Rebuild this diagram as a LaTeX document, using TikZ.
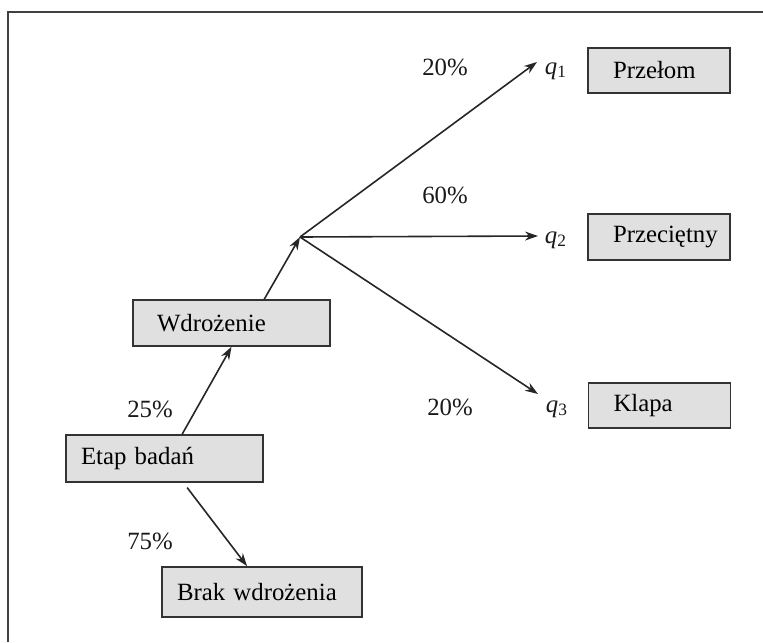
\documentclass[tikz,border=0pt]{standalone}
\usepackage{fontspec}
\setmainfont{Liberation Serif}
\usetikzlibrary{arrows.meta}

\begin{document}
\begin{tikzpicture}[x=0.5pt, y=-0.5pt,
	box/.style={draw=black!80, line width=0.8pt, fill=black!12, align=left,
		inner ysep=0pt, font=\fontsize{12.4}{15}\selectfont},
	arr/.style={line width=0.8pt, black!85, -{Stealth[length=6.5pt, width=4.5pt]}},
	lbl/.style={font=\fontsize{12.4}{15}\selectfont, text=black!90}]
	\useasboundingbox (0,0) rectangle (763,642);
	\draw[line width=0.7pt, black!75] (8,642) -- (8,12) -- (763,12);

	% boxes
	\node[box, text width=74.5pt, inner xsep=12pt, minimum height=23pt] (wdr) at (231.5,323) {Wdrożenie};
	\node[box, text width=83.5pt, inner xsep=7.5pt, minimum height=23.5pt] (etap) at (164.5,458.5) {Etap badań};
	\node[box, text width=85pt, inner xsep=7.5pt, minimum height=25pt] (brak) at (262,592) {Brak wdrożenia};
	\node[box, text width=46pt, inner xsep=12.5pt, minimum height=22.5pt] (przel) at (659,70.5) {Przełom};
	\node[box, text width=46pt, inner xsep=12.5pt, minimum height=23pt] (przec) at (659,237) {Przeciętny};
	\node[box, text width=46pt, inner xsep=12.5pt, minimum height=22.5pt] (klapa) at (659.5,405.5) {Klapa};

	% branch point and arrow tips
	\coordinate (br) at (300,237);
	\coordinate (t1) at (537,62);
	\coordinate (t2) at (538,236);
	\coordinate (t3) at (538,394);

	\node[lbl] (q1) at (556,71) {\textit{q}\textsubscript{1}};
	\node[lbl] (q2) at (556,240) {\textit{q}\textsubscript{2}};
	\node[lbl] (q3) at (557,409) {\textit{q}\textsubscript{3}};

	\draw[arr] (etap.54) -- (wdr.south);
	\draw[arr, shorten <=3pt] (etap.-52) -- (brak.120);
	\draw[arr] (wdr.36) -- (br);
	\draw[arr] (br) -- (t1);
	\draw[arr] (br) -- (t2);
	\draw[arr] (br) -- (t3);

	% probabilities
	\node[lbl] (p1) at (445,67) {20\%};
	\node[lbl] (p2) at (445,195) {60\%};
	\node[lbl] (p3) at (450,407) {20\%};
	\node[lbl] (pw) at (150,409) {25\%};
	\node[lbl] (pb) at (150,541) {75\%};
\end{tikzpicture}
\end{document}
